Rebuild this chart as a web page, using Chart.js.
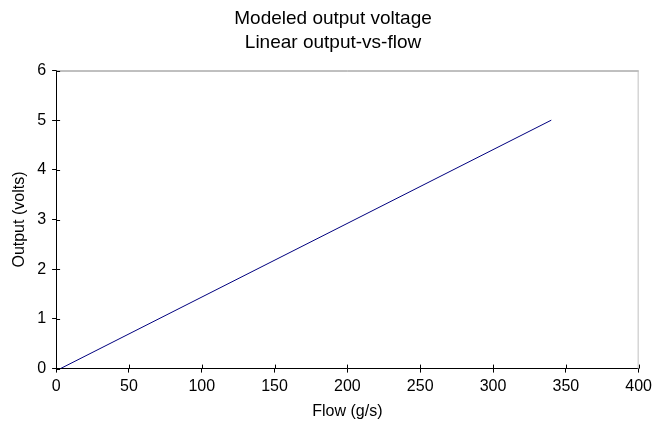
<!DOCTYPE html>
<html><head><meta charset="utf-8">
<script src="https://cdn.jsdelivr.net/npm/chart.js@4/dist/chart.umd.min.js"></script>
<style>html,body{margin:0;padding:0;background:#fff}#wrap{width:656px;height:433px}</style>
</head><body><div id="wrap"><canvas id="c" width="656" height="433"></canvas></div>
<script>
const flowValues = [3, 340];
const outputValues = [0, 5];
const titleLines = ["Modeled output voltage", "Linear output-vs-flow"];
const xAxisTitle = "Flow (g/s)";
const yAxisTitle = "Output (volts)";

const FONT = "'Liberation Sans', Arial, sans-serif";

const frame = {
  id: 'frame',
  afterDatasetsDraw(chart) {
    const {ctx, chartArea: a, scales: {x, y}} = chart;
    ctx.save();
    ctx.lineWidth = 1;
    ctx.strokeStyle = '#808080';
    ctx.beginPath(); ctx.moveTo(a.left, a.top + 0.5); ctx.lineTo(a.right, a.top + 0.5); ctx.stroke();
    ctx.strokeStyle = '#c0c0c0';
    ctx.beginPath(); ctx.moveTo(a.right - 0.5, a.top); ctx.lineTo(a.right - 0.5, a.bottom); ctx.stroke();
    ctx.strokeStyle = '#000';
    x.ticks.forEach(t => {
      const px = Math.round(x.getPixelForValue(t.value)) + 0.5;
      ctx.beginPath(); ctx.moveTo(px, a.bottom); ctx.lineTo(px, a.bottom - 4); ctx.stroke();
    });
    y.ticks.forEach(t => {
      const py = Math.round(y.getPixelForValue(t.value)) + 0.5;
      ctx.beginPath(); ctx.moveTo(a.left, py); ctx.lineTo(a.left + 4, py); ctx.stroke();
    });
    ctx.restore();
  }
};

new Chart(document.getElementById('c'), {
  type: 'scatter',
  data: {
    datasets: [{
      data: flowValues.map((v, i) => ({x: v, y: outputValues[i]})),
      showLine: true,
      borderColor: '#00007f',
      borderWidth: 1,
      pointRadius: 0,
      fill: false
    }]
  },
  options: {
    responsive: false,
    animation: false,
    devicePixelRatio: 1,
    layout: {padding: {left: 10, right: 0, top: 0, bottom: 12}},
    plugins: {
      legend: {display: false},
      tooltip: {enabled: false},
      title: {
        display: true,
        text: titleLines,
        color: '#000',
        font: {family: FONT, size: 19, weight: 'normal', lineHeight: 1.25},
        padding: {top: 7, bottom: 16}
      }
    },
    scales: {
      x: {
        type: 'linear', min: 0, max: 400,
        ticks: {stepSize: 50, color: '#000', font: {family: FONT, size: 16}, padding: 4, maxRotation: 0},
        grid: {display: true, drawOnChartArea: false, drawTicks: true, tickLength: 4, color: '#000'},
        border: {display: true, color: '#000', width: 1},
        title: {display: true, text: xAxisTitle, color: '#000', font: {family: FONT, size: 16}, padding: {top: 2, bottom: 0}}
      },
      y: {
        type: 'linear', min: 0, max: 6,
        ticks: {stepSize: 1, color: '#000', font: {family: FONT, size: 16}, padding: 6},
        grid: {display: true, drawOnChartArea: false, drawTicks: true, tickLength: 4, color: '#000'},
        border: {display: true, color: '#000', width: 1},
        title: {display: true, text: yAxisTitle, color: '#000', font: {family: FONT, size: 16}, padding: {top: 0, bottom: 2}}
      }
    }
  },
  plugins: [frame]
});
</script></body></html>
